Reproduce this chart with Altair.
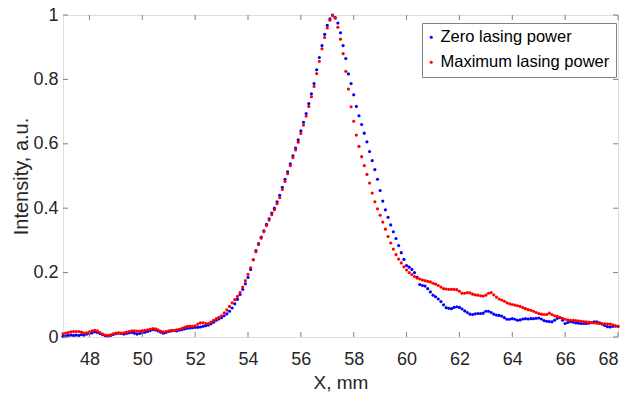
import altair as alt
import pandas as pd

x_start = 47.0
x_step = 0.1

zero_power = [
    0.002, 0.003, 0.005, 0.006, 0.005, 0.006, 0.005, 0.007, 0.006, 0.009,
    0.011, 0.013, 0.016, 0.014, 0.011, 0.007, 0.004, 0.003, 0.005, 0.008,
    0.010, 0.012, 0.011, 0.009, 0.011, 0.013, 0.014, 0.012, 0.009, 0.011,
    0.013, 0.015, 0.017, 0.020, 0.023, 0.022, 0.019, 0.015, 0.012, 0.014,
    0.017, 0.019, 0.020, 0.019, 0.021, 0.023, 0.025, 0.027, 0.028, 0.029,
    0.030, 0.030, 0.031, 0.033, 0.035, 0.037, 0.041, 0.046, 0.052, 0.056,
    0.060, 0.066, 0.072, 0.080, 0.090, 0.103, 0.117, 0.132, 0.148, 0.165,
    0.185, 0.210, 0.240, 0.268, 0.290, 0.310, 0.330, 0.350, 0.367, 0.385,
    0.400, 0.420, 0.440, 0.465, 0.490, 0.513, 0.538, 0.563, 0.587, 0.612,
    0.640, 0.667, 0.694, 0.725, 0.755, 0.787, 0.830, 0.868, 0.905, 0.940,
    0.968, 0.988, 1.000, 0.992, 0.975, 0.945, 0.905, 0.865, 0.817, 0.787,
    0.752, 0.716, 0.687, 0.660, 0.633, 0.606, 0.576, 0.548, 0.520, 0.490,
    0.455, 0.422, 0.395, 0.372, 0.348, 0.327, 0.306, 0.284, 0.262, 0.241,
    0.222, 0.217, 0.210, 0.200, 0.185, 0.163, 0.160, 0.158, 0.150, 0.140,
    0.130, 0.125, 0.118, 0.110, 0.100, 0.091, 0.089, 0.088, 0.092, 0.094,
    0.092, 0.087, 0.081, 0.076, 0.071, 0.070, 0.072, 0.073, 0.073, 0.074,
    0.080, 0.080, 0.076, 0.071, 0.068, 0.067, 0.065, 0.060, 0.055, 0.055,
    0.057, 0.055, 0.052, 0.053, 0.056, 0.057, 0.056, 0.057, 0.057, 0.058,
    0.059, 0.056, 0.051, 0.049, 0.048, 0.047, 0.052, 0.058, 0.060, 0.052,
    0.042, 0.045, 0.048, 0.046, 0.044, 0.043, 0.042, 0.042, 0.042, 0.043,
    0.045, 0.047, 0.047, 0.044, 0.040, 0.036, 0.032, 0.031, 0.033, 0.034,
    0.033,
]

max_power = [
    0.010, 0.012, 0.014, 0.016, 0.017, 0.017, 0.017, 0.015, 0.012, 0.013,
    0.016, 0.019, 0.021, 0.019, 0.014, 0.009, 0.006, 0.005, 0.007, 0.010,
    0.012, 0.013, 0.012, 0.013, 0.015, 0.017, 0.019, 0.019, 0.018, 0.018,
    0.020, 0.021, 0.022, 0.024, 0.026, 0.025, 0.022, 0.018, 0.016, 0.017,
    0.019, 0.021, 0.021, 0.022, 0.024, 0.027, 0.030, 0.033, 0.034, 0.033,
    0.035, 0.040, 0.044, 0.044, 0.042, 0.042, 0.046, 0.052, 0.057, 0.061,
    0.066, 0.075, 0.084, 0.095, 0.106, 0.116, 0.126, 0.138, 0.155, 0.175,
    0.195, 0.215, 0.240, 0.265, 0.287, 0.307, 0.327, 0.346, 0.363, 0.380,
    0.395, 0.414, 0.433, 0.458, 0.483, 0.507, 0.532, 0.557, 0.581, 0.605,
    0.632, 0.658, 0.686, 0.716, 0.746, 0.778, 0.818, 0.856, 0.895, 0.930,
    0.960, 0.984, 0.998, 0.990, 0.962, 0.925, 0.880, 0.825, 0.770, 0.715,
    0.670, 0.627, 0.592, 0.560, 0.532, 0.505, 0.478, 0.447, 0.420, 0.398,
    0.378, 0.357, 0.335, 0.312, 0.292, 0.273, 0.256, 0.242, 0.230, 0.218,
    0.208, 0.200, 0.194, 0.188, 0.183, 0.180, 0.177, 0.175, 0.173, 0.171,
    0.167, 0.164, 0.160, 0.155, 0.150, 0.149, 0.148, 0.148, 0.148, 0.147,
    0.142, 0.136, 0.136, 0.138, 0.137, 0.133, 0.131, 0.130, 0.128, 0.127,
    0.130, 0.136, 0.138, 0.131, 0.124, 0.118, 0.115, 0.111, 0.106, 0.103,
    0.101, 0.099, 0.097, 0.095, 0.091, 0.088, 0.085, 0.083, 0.080, 0.076,
    0.073, 0.071, 0.070, 0.070, 0.074, 0.070, 0.066, 0.064, 0.061, 0.058,
    0.055, 0.053, 0.052, 0.052, 0.051, 0.050, 0.049, 0.048, 0.047, 0.046,
    0.045, 0.044, 0.043, 0.042, 0.042, 0.041, 0.040, 0.040, 0.038, 0.035,
    0.033,
]

series_names = ["Zero lasing power", "Maximum lasing power"]
series_colors = ["#0000ff", "#ff0000"]
x_ticks = [48, 50, 52, 54, 56, 58, 60, 62, 64, 66, 68]
y_ticks = [0, 0.2, 0.4, 0.6, 0.8, 1]

rows = []
for name, vals in zip(series_names, [zero_power, max_power]):
    for i, v in enumerate(vals):
        rows.append({"x": round(x_start + i * x_step, 2), "y": v, "series": name})
df = pd.DataFrame(rows)

W, H = 555, 322
FONT = "Liberation Sans, Arial, Helvetica, sans-serif"
TXT = "#262626"
GRAY = "#808080"
TL = 5

xscale = alt.Scale(domain=[47, 68], nice=False, zero=False)
yscale = alt.Scale(domain=[0, 1], nice=False)

xaxis = alt.Axis(
    values=x_ticks, title="X, mm", ticks=False, domain=False, grid=False,
    labelFontSize=18, labelFont=FONT, labelColor=TXT, labelPadding=13,
    titleFontSize=19, titleFont=FONT, titleColor=TXT, titleFontWeight="normal",
    titlePadding=5)
yaxis = alt.Axis(
    values=y_ticks, format="~g", title="Intensity, a.u.", ticks=False, domain=False, grid=False,
    labelFontSize=18, labelFont=FONT, labelColor=TXT, labelPadding=5,
    titleFontSize=20, titleFont=FONT, titleColor=TXT, titleFontWeight="normal",
    titlePadding=1)

points = alt.Chart(df).mark_point(filled=True, shape="circle", size=10, opacity=1, strokeWidth=0).encode(
    x=alt.X("x:Q", scale=xscale, axis=xaxis),
    y=alt.Y("y:Q", scale=yscale, axis=yaxis),
    color=alt.Color("series:N", scale=alt.Scale(domain=series_names, range=series_colors),
                    sort=series_names,
                    legend=alt.Legend(title=None, orient="none", legendX=359, legendY=8,
                                      strokeColor=GRAY, fillColor="white", padding=6,
                                      labelFontSize=16.5, labelFont=FONT, labelColor="black",
                                      labelLimit=0,
                                      symbolType="circle", symbolSize=10, symbolStrokeWidth=0,
                                      symbolOffset=-5,
                                      rowPadding=8, labelOffset=1)),
    order=alt.Order("order_idx:Q"),
).transform_calculate(order_idx="datum.series == 'Zero lasing power' ? 0 : 1")

xt = pd.DataFrame({"x": x_ticks})
yt = pd.DataFrame({"y": y_ticks})

tick_bottom = alt.Chart(xt).mark_rule(color=GRAY, strokeWidth=1).encode(
    x=alt.X("x:Q", scale=xscale, axis=xaxis), y=alt.value(H), y2=alt.value(H - TL))
tick_top = alt.Chart(xt).mark_rule(color=GRAY, strokeWidth=1).encode(
    x=alt.X("x:Q", scale=xscale, axis=xaxis), y=alt.value(0), y2=alt.value(TL))
tick_left = alt.Chart(yt).mark_rule(color=GRAY, strokeWidth=1).encode(
    y=alt.Y("y:Q", scale=yscale, axis=yaxis), x=alt.value(0), x2=alt.value(TL))
tick_right = alt.Chart(yt).mark_rule(color=GRAY, strokeWidth=1).encode(
    y=alt.Y("y:Q", scale=yscale, axis=yaxis), x=alt.value(W), x2=alt.value(W - TL))

chart = alt.layer(points, tick_bottom, tick_top, tick_left, tick_right).properties(
    width=W, height=H,
    autosize=alt.AutoSizeParams(type="none"),
    padding={"left": 63, "top": 15, "right": 20, "bottom": 56},
).configure_view(stroke=GRAY, strokeWidth=1).configure(background="white")

chart.save("out.html", embed_options={"renderer": "svg", "actions": False})
